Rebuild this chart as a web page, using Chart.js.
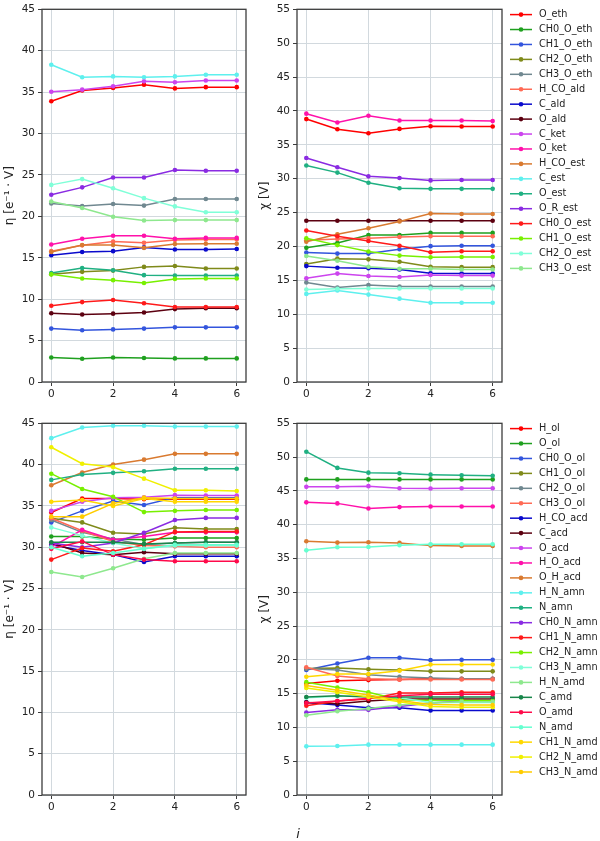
<!DOCTYPE html>
<html><head><meta charset="utf-8">
<script src="https://cdn.jsdelivr.net/npm/chart.js@4"></script>
<style>
html,body{margin:0;padding:0;background:#fff;width:600px;height:841px;overflow:hidden;position:relative;}
canvas{position:absolute;}
#xl{position:absolute;left:288px;top:826px;width:20px;text-align:center;font:italic 13px 'DejaVu Sans';color:#222;}
</style></head><body>
<canvas id="c1" width="255" height="410" style="left:0;top:0"></canvas>
<canvas id="c2" width="345" height="410" style="left:255px;top:0"></canvas>
<canvas id="c3" width="255" height="427" style="left:0;top:414px"></canvas>
<canvas id="c4" width="345" height="427" style="left:255px;top:414px"></canvas>
<div id="xl">i</div>
<script>
// ---------- data ----------
const steps = [0, 1, 2, 3, 4, 5, 6];
const xTicks = [0, 2, 4, 6];
const etaTicksMax = 45;
const chiTicksMax = 55;

const labelsTop = ['O_eth','CH0_O_eth','CH1_O_eth','CH2_O_eth','CH3_O_eth','H_CO_ald','C_ald','O_ald','C_ket','O_ket','H_CO_est','C_est','O_est','O_R_est','CH0_O_est','CH1_O_est','CH2_O_est','CH3_O_est'];

const etaTop = [
  [33.9, 35.2, 35.5, 35.9, 35.45, 35.6, 35.6],   // O_eth
  [2.95, 2.8, 2.95, 2.9, 2.85, 2.85, 2.85],      // CH0_O_eth
  [6.45, 6.25, 6.35, 6.45, 6.6, 6.6, 6.6],       // CH1_O_eth
  [13.0, 13.3, 13.45, 13.9, 14.0, 13.7, 13.7],   // CH2_O_eth
  [21.55, 21.25, 21.5, 21.3, 22.1, 22.1, 22.1],  // CH3_O_eth
  [15.8, 16.5, 16.95, 16.8, 17.15, 17.2, 17.2],  // H_CO_ald
  [15.3, 15.7, 15.8, 16.25, 16.0, 16.0, 16.05],  // C_ald
  [8.3, 8.15, 8.25, 8.4, 8.8, 8.9, 8.9],         // O_ald
  [35.05, 35.3, 35.7, 36.3, 36.2, 36.4, 36.4],   // C_ket
  [16.6, 17.3, 17.65, 17.65, 17.3, 17.4, 17.4],  // O_ket
  [15.7, 16.55, 16.55, 16.2, 16.65, 16.7, 16.7], // H_CO_est
  [38.3, 36.8, 36.9, 36.8, 36.9, 37.1, 37.1],    // C_est
  [13.15, 13.75, 13.5, 12.9, 12.85, 12.85, 12.85], // O_est
  [22.6, 23.5, 24.7, 24.7, 25.6, 25.5, 25.5],    // O_R_est
  [9.2, 9.65, 9.9, 9.5, 9.05, 9.05, 9.05],       // CH0_O_est
  [13.0, 12.5, 12.3, 11.95, 12.45, 12.5, 12.5],  // CH1_O_est
  [23.8, 24.5, 23.4, 22.2, 21.2, 20.5, 20.5],    // CH2_O_est
  [21.8, 21.0, 19.95, 19.5, 19.55, 19.55, 19.55] // CH3_O_est
];

const chiTop = [
  [38.8, 37.3, 36.7, 37.35, 37.75, 37.7, 37.7],  // O_eth
  [19.8, 20.5, 21.7, 21.7, 22.0, 22.0, 22.0],    // CH0_O_eth
  [19.1, 18.95, 18.95, 19.6, 20.05, 20.1, 20.1], // CH1_O_eth
  [17.4, 18.2, 18.1, 17.75, 17.0, 16.95, 16.95], // CH2_O_eth
  [14.7, 13.95, 14.3, 14.1, 14.1, 14.1, 14.1],   // CH3_O_eth
  [20.9, 21.1, 21.2, 21.4, 21.5, 21.5, 21.5],    // H_CO_ald
  [17.1, 16.85, 16.8, 16.6, 16.05, 16.0, 16.0],  // C_ald
  [23.8, 23.8, 23.8, 23.8, 23.8, 23.8, 23.8],    // O_ald
  [15.3, 16.0, 15.65, 15.5, 15.8, 15.7, 15.7],   // C_ket
  [39.6, 38.3, 39.3, 38.6, 38.6, 38.6, 38.5],    // O_ket
  [20.7, 21.8, 22.7, 23.7, 24.85, 24.8, 24.8],   // H_CO_est
  [13.0, 13.5, 12.9, 12.3, 11.7, 11.7, 11.7],    // C_est
  [31.95, 30.9, 29.4, 28.6, 28.5, 28.5, 28.5],   // O_est
  [33.05, 31.7, 30.35, 30.1, 29.75, 29.8, 29.8], // O_R_est
  [22.35, 21.5, 20.8, 20.1, 19.15, 19.3, 19.3],  // CH0_O_est
  [21.2, 20.2, 19.25, 18.65, 18.4, 18.45, 18.45],// CH1_O_est
  [13.65, 13.75, 13.8, 13.8, 13.8, 13.8, 13.8],  // CH2_O_est
  [18.6, 17.9, 17.0, 16.7, 16.7, 16.6, 16.6]     // CH3_O_est
];

const labelsBottom = ['H_ol','O_ol','CH0_O_ol','CH1_O_ol','CH2_O_ol','CH3_O_ol','H_CO_acd','C_acd','O_acd','H_O_acd','O_H_acd','H_N_amn','N_amn','CH0_N_amn','CH1_N_amn','CH2_N_amn','CH3_N_amn','H_N_amd','C_amd','O_amd','N_amd','CH1_N_amd','CH2_N_amd','CH3_N_amd'];

const etaBottom = [
  [34.2, 35.9, 35.9, 35.8, 35.8, 35.8, 35.8],    // H_ol
  [31.3, 31.3, 31.0, 30.9, 31.1, 31.1, 31.1],    // O_ol
  [33.0, 34.4, 35.6, 35.1, 36.0, 36.0, 36.0],    // CH0_O_ol
  [33.5, 33.0, 31.75, 31.6, 32.35, 32.2, 32.2],  // CH1_O_ol
  [33.3, 31.8, 31.0, 30.3, 30.5, 30.6, 30.6],    // CH2_O_ol
  [33.5, 32.0, 30.7, 30.2, 30.1, 30.0, 30.0],    // CH3_O_ol
  [30.3, 29.6, 29.1, 28.2, 28.9, 28.9, 28.9],    // H_CO_acd
  [30.5, 29.3, 29.1, 29.4, 29.2, 29.2, 29.2],    // C_acd
  [34.4, 35.5, 36.0, 36.05, 36.3, 36.25, 36.25], // O_acd
  [30.0, 32.1, 30.9, 31.3, 31.8, 31.8, 31.8],    // H_O_acd
  [37.5, 39.05, 40.0, 40.6, 41.3, 41.3, 41.3],   // O_H_acd
  [43.2, 44.5, 44.7, 44.7, 44.6, 44.6, 44.6],    // H_N_amn
  [38.15, 38.8, 39.0, 39.2, 39.5, 39.5, 39.5],   // N_amn
  [30.5, 30.0, 30.5, 31.75, 33.3, 33.55, 33.55], // CH0_N_amn
  [28.5, 29.9, 29.5, 30.3, 31.85, 31.9, 31.9],   // CH1_N_amn
  [38.9, 37.05, 36.1, 34.25, 34.4, 34.5, 34.5],  // CH2_N_amn
  [32.4, 31.4, 30.5, 29.8, 30.2, 30.2, 30.2],    // CH3_N_amn
  [27.0, 26.4, 27.45, 28.6, 29.3, 29.3, 29.3],   // H_N_amd
  [30.6, 30.6, 30.6, 30.4, 30.5, 30.6, 30.6],    // C_amd
  [29.8, 30.7, 29.1, 28.5, 28.3, 28.3, 28.3],    // O_amd
  [30.0, 28.9, 29.3, 29.8, 30.3, 30.3, 30.3],    // N_amd
  [35.5, 35.7, 35.0, 35.9, 35.5, 35.5, 35.5],    // CH1_N_amd
  [42.1, 40.1, 39.7, 38.3, 36.9, 36.9, 36.8],    // CH2_N_amd
  [33.7, 33.7, 35.3, 36.0, 35.9, 35.9, 35.9]     // CH3_N_amd
];

const chiBottom = [
  [16.5, 16.9, 17.0, 17.1, 17.2, 17.2, 17.2],    // H_ol
  [46.7, 46.7, 46.7, 46.7, 46.7, 46.7, 46.7],    // O_ol
  [18.5, 19.45, 20.3, 20.3, 19.95, 20.0, 20.0],  // CH0_O_ol
  [18.7, 18.8, 18.6, 18.5, 18.3, 18.3, 18.3],    // CH1_O_ol
  [18.7, 18.5, 17.8, 17.5, 17.3, 17.2, 17.2],    // CH2_O_ol
  [18.9, 17.6, 17.2, 17.1, 17.1, 17.1, 17.1],    // CH3_O_ol
  [13.7, 13.3, 12.9, 12.9, 12.5, 12.5, 12.5],    // H_CO_acd
  [13.7, 13.5, 13.9, 14.2, 14.2, 14.2, 14.2],    // C_acd
  [45.6, 45.6, 45.7, 45.4, 45.35, 45.4, 45.4],   // O_acd
  [43.3, 43.15, 42.4, 42.6, 42.7, 42.7, 42.7],   // H_O_acd
  [37.55, 37.35, 37.4, 37.3, 36.9, 36.85, 36.85],// O_H_acd
  [7.2, 7.25, 7.45, 7.45, 7.45, 7.45, 7.45],     // H_N_amn
  [50.8, 48.4, 47.7, 47.6, 47.4, 47.3, 47.25],   // N_amn
  [12.2, 12.6, 12.6, 13.1, 13.6, 13.9, 14.0],    // CH0_N_amn
  [13.2, 13.9, 14.2, 15.1, 15.1, 15.2, 15.2],    // CH1_N_amn
  [16.7, 15.9, 15.2, 14.1, 14.0, 14.0, 14.0],    // CH2_N_amn
  [14.4, 14.6, 14.6, 14.4, 13.7, 13.7, 13.7],    // CH3_N_amn
  [11.8, 12.4, 12.8, 13.3, 13.6, 13.8, 13.8],    // H_N_amd
  [14.5, 14.7, 14.5, 14.5, 14.5, 14.5, 14.5],    // C_amd
  [13.6, 13.9, 14.3, 14.7, 14.9, 14.9, 14.9],    // O_amd
  [36.2, 36.65, 36.7, 36.95, 37.1, 37.1, 37.1],  // N_amd
  [17.5, 17.9, 17.9, 18.4, 19.3, 19.3, 19.3],    // CH1_N_amd
  [15.85, 15.2, 14.5, 13.8, 13.1, 13.0, 13.0],   // CH2_N_amd
  [16.2, 15.5, 14.8, 14.0, 13.4, 13.3, 13.3]     // CH3_N_amd
];

// ---------- style ----------
const palette = ['#ff0000','#1fa01f','#3355dd','#7f8a1a','#708890','#ff6a55','#0a0acc','#5c0010',
  '#cc44ee','#ff11aa','#d97a30','#5ef0ee','#20b082','#8a2be2','#ff1a1a','#78f000',
  '#80ffd8','#8ee88e','#18864a','#ff0a4a','#66ffd0','#ffd800','#f0f000','#ffcc00'];

Chart.defaults.font.family = "'DejaVu Sans'";
Chart.defaults.font.size = 10;
Chart.defaults.color = '#222';

const framePlugin = {
  id: 'frame',
  afterDatasetsDraw(chart) {
    const ca = chart.chartArea, ctx = chart.ctx;
    ctx.save();
    ctx.strokeStyle = '#3c3c3c';
    ctx.lineWidth = 1.3;
    ctx.strokeRect(ca.left, ca.top, ca.right - ca.left, ca.bottom - ca.top);
    ctx.restore();
  }
};

const sideLegend = {
  id: 'sideLegend',
  afterDraw(chart, args, opts) {
    if (!opts.show) return;
    const ctx = chart.ctx, ca = chart.chartArea;
    ctx.save();
    ctx.font = "9.7px 'DejaVu Sans'";
    ctx.textBaseline = 'middle';
    chart.data.datasets.forEach((ds, k) => {
      const y = opts.top + k * opts.step;
      const x0 = ca.right + 8;
      ctx.strokeStyle = ds.borderColor;
      ctx.lineWidth = 1.5;
      ctx.beginPath(); ctx.moveTo(x0, y); ctx.lineTo(x0 + 22, y); ctx.stroke();
      ctx.fillStyle = ds.borderColor;
      ctx.beginPath(); ctx.arc(x0 + 11, y, 2.3, 0, Math.PI * 2); ctx.fill();
      ctx.fillStyle = '#222';
      ctx.fillText(ds.label, x0 + 29, y);
    });
    ctx.restore();
  }
};

function makeChart(id, labels, rows, yMax, yTitle, axisH, padRight, legend) {
  const datasets = rows.map((row, k) => ({
    label: labels[k],
    data: row.map((v, j) => ({ x: steps[j], y: v })),
    borderColor: palette[k],
    backgroundColor: palette[k],
    borderWidth: 1.5,
    pointRadius: 2.3,
    pointBorderWidth: 0,
    pointHoverRadius: 2.3,
    tension: 0,
    order: -k
  }));
  return new Chart(document.getElementById(id), {
    type: 'line',
    data: { datasets },
    plugins: [framePlugin, sideLegend],
    options: {
      responsive: false,
      animation: false,
      events: [],
      layout: { padding: { top: 5, right: padRight, left: 0, bottom: 0 } },
      plugins: {
        legend: { display: false },
        tooltip: { enabled: false },
        sideLegend: { show: legend, top: 14.6, step: 14.93 }
      },
      scales: {
        x: {
          type: 'linear', min: -0.3, max: 6.3,
          afterBuildTicks: s => { s.ticks = xTicks.map(v => ({ value: v })); },
          afterFit: s => { s.height = axisH; },
          ticks: { padding: 2, font: { size: 10.5 }, color: '#222' },
          grid: { color: '#d2d9de', lineWidth: 1, tickLength: 4, tickColor: '#3c3c3c' },
          border: { display: false }
        },
        y: {
          type: 'linear', min: 0, max: yMax,
          afterFit: s => { s.width = 42; },
          ticks: { stepSize: 5, padding: 3, font: { size: 10.5 }, color: '#222' },
          grid: { color: '#d2d9de', lineWidth: 1, tickLength: 4, tickColor: '#3c3c3c' },
          border: { display: false },
          title: { display: true, text: yTitle, font: { size: 12 }, color: '#222', padding: { top: 3, bottom: 0 } }
        }
      }
    }
  });
}

makeChart('c1', labelsTop, etaTop, etaTicksMax, 'η [e⁻¹ · V]', 28, 9, false);
makeChart('c2', labelsTop, chiTop, chiTicksMax, 'χ [V]', 28, 98, true);
makeChart('c3', labelsBottom, etaBottom, etaTicksMax, 'η [e⁻¹ · V]', 46, 9, false);
makeChart('c4', labelsBottom, chiBottom, chiTicksMax, 'χ [V]', 46, 98, true);
</script>
</body></html>
